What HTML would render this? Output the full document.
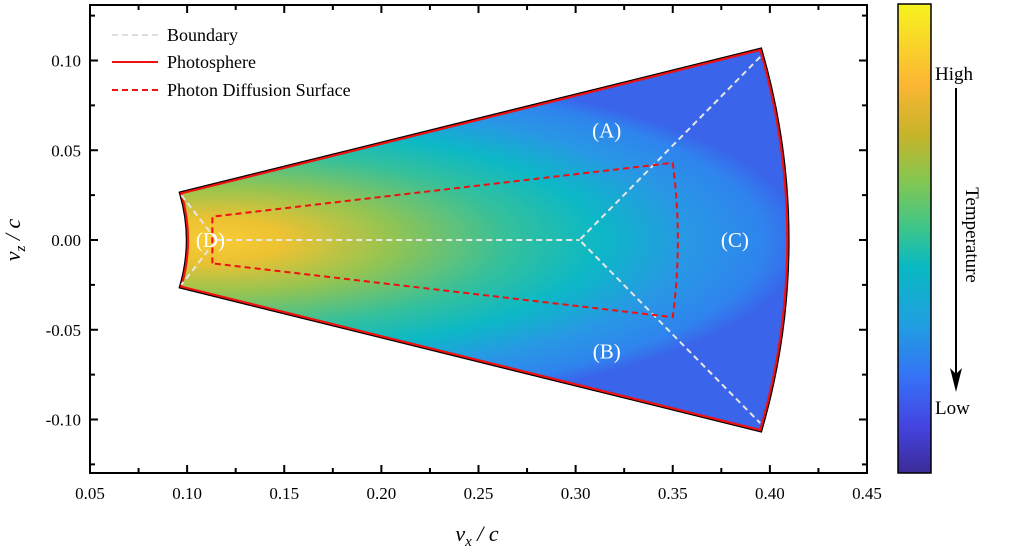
<!DOCTYPE html>
<html><head><meta charset="utf-8"><style>
body{margin:0;background:#fff;}
svg text{font-family:"Liberation Serif",serif;}
</style></head><body>
<svg id="chart" width="1020" height="549" xmlns="http://www.w3.org/2000/svg">
<defs>
<radialGradient id="heat" gradientUnits="userSpaceOnUse" cx="0" cy="0" r="1" gradientTransform="translate(215,240) scale(590,178)">
<stop offset="0" stop-color="#f8cc36"/><stop offset="0.12" stop-color="#ecc232"/><stop offset="0.3" stop-color="#94c452"/>
<stop offset="0.5" stop-color="#34c09c"/><stop offset="0.65" stop-color="#0cb8c6"/><stop offset="0.8" stop-color="#2898e4"/>
<stop offset="0.93" stop-color="#2f84ee"/><stop offset="1" stop-color="#3a64ea"/>
</radialGradient>
<linearGradient id="cbar" x1="0" y1="0" x2="0" y2="1">
<stop offset="0" stop-color="#f6f31e"/><stop offset="0.17" stop-color="#fcb634"/><stop offset="0.28" stop-color="#c6b42a"/>
<stop offset="0.38" stop-color="#82c752"/><stop offset="0.48" stop-color="#3cc58c"/><stop offset="0.56" stop-color="#08b9c2"/>
<stop offset="0.68" stop-color="#20a0e0"/><stop offset="0.8" stop-color="#3670f6"/><stop offset="0.9" stop-color="#4444e0"/>
<stop offset="1" stop-color="#3c2c98"/>
</linearGradient>
</defs>
<g id="plot"></g>
</svg>
<script>
const xTicks=[0.05,0.10,0.15,0.20,0.25,0.30,0.35,0.40,0.45];
const yTicks=[0.10,0.05,0.00,-0.05,-0.10];
const halfAngle=[15];            // degrees of wedge half-opening
const radii=[0.1004,0.409];      // inner, outer photosphere radius
const diffusion=[[0.113,0.013],[0.35,0.043],[0.35,-0.043],[0.113,-0.013]];
const boundaryPts=[[0.115,0],[0.302,0],[0.395,0.102],[0.395,-0.102],[0.097,0.025],[0.097,-0.025]];
const regionLabels=["(A)","(B)","(C)","(D)"];
const regionPos=[[0.316,0.061],[0.316,-0.062],[0.382,0],[0.112,0]];

const NS="http://www.w3.org/2000/svg";
const X=v=>90+(v-0.05)*1942.5, Y=v=>240-v*1795;
const g=document.getElementById('plot');
function el(t,a,p){const e=document.createElementNS(NS,t);for(const k in a)e.setAttribute(k,a[k]);(p||g).appendChild(e);return e;}

// wedge
const a=halfAngle[0]*Math.PI/180, ri=radii[0], ro=radii[1];
const pi=(r,s)=>[X(r*Math.cos(a)),Y(s*r*Math.sin(a))];
const [ix1,iy1]=pi(ri,1),[ix2,iy2]=pi(ri,-1),[ox1,oy1]=pi(ro,1),[ox2,oy2]=pi(ro,-1);
const rxi=ri*1942.5, ryi=ri*1795, rxo=ro*1942.5, ryo=ro*1795;
const d=`M${ix1},${iy1} L${ox1},${oy1} A${rxo},${ryo} 0 0 1 ${ox2},${oy2} L${ix2},${iy2} A${rxi},${ryi} 0 0 0 ${ix1},${iy1} Z`;
let os=el('path',{d:d,fill:'none',stroke:'#000','stroke-width':4.5,'stroke-linejoin':'miter'});


let w=el('path',{d:d,fill:'url(#heat)'});


let ph=el('path',{d:d,fill:'none',stroke:'#f01010','stroke-width':2.2});



// boundary
const B=boundaryPts.map(p=>[X(p[0]),Y(p[1])]);
const bd=`M${B[0]} L${B[1]} M${B[2]} L${B[1]} L${B[3]} M${B[4]} L${B[0]} L${B[5]}`;
let bl=el('path',{d:bd,fill:'none',stroke:'#e6e6e6','stroke-width':2,'stroke-dasharray':'6,4'});



// diffusion surface
const D=diffusion.map(p=>[X(p[0]),Y(p[1])]);
const rd=Math.hypot(diffusion[1][0],diffusion[1][1]);
const dd=`M${D[3]} L${D[0]} L${D[1]} A${rd*1942.5},${rd*1795} 0 0 1 ${D[2]} L${D[3]}`;
let ds=el('path',{d:dd,fill:'none',stroke:'#f01010','stroke-width':2,'stroke-dasharray':'6,4'});



regionLabels.forEach((t,i)=>{const e=el('text',{x:X(regionPos[i][0]),y:Y(regionPos[i][1])+7,'text-anchor':'middle','font-size':21,fill:'#fff'});e.textContent=t;

});

// frame
let fr=el('rect',{x:90,y:5,width:777,height:468,fill:'none',stroke:'#000','stroke-width':2});


xTicks.forEach((v,i)=>{const x=X(v);
 el('line',{x1:x,x2:x,y1:473,y2:465,stroke:'#000','stroke-width':2});
 el('line',{x1:x,x2:x,y1:5,y2:13,stroke:'#000','stroke-width':2});
 if(i<xTicks.length-1){const m=X(v+0.025);el('line',{x1:m,x2:m,y1:473,y2:468,stroke:'#000','stroke-width':2});el('line',{x1:m,x2:m,y1:5,y2:10,stroke:'#000','stroke-width':2});}
 const t=el('text',{x:x,y:499,'text-anchor':'middle','font-size':17});t.textContent=v.toFixed(2);
 
 });
[0.125,0.075,0.025,-0.025,-0.075,-0.125].forEach(v=>{const y=Y(v);el('line',{x1:90,x2:95,y1:y,y2:y,stroke:'#000','stroke-width':2});el('line',{x1:867,x2:862,y1:y,y2:y,stroke:'#000','stroke-width':2});});
yTicks.forEach(v=>{const y=Y(v);
 el('line',{x1:90,x2:98,y1:y,y2:y,stroke:'#000','stroke-width':2});
 el('line',{x1:867,x2:859,y1:y,y2:y,stroke:'#000','stroke-width':2});
 const t=el('text',{x:81,y:y+6,'text-anchor':'end','font-size':17});t.textContent=v.toFixed(2);
 
 });

// axis titles
let xt=el('text',{x:477,y:541,'text-anchor':'middle','font-size':22,'font-style':'italic'});
xt.innerHTML='v<tspan font-size="15" dy="5">x</tspan><tspan dy="-5"> / c</tspan>';


let yt=el('text',{x:0,y:0,'text-anchor':'middle','font-size':22,'font-style':'italic',transform:'translate(20,240) rotate(-90)'});
yt.innerHTML='v<tspan font-size="15" dy="5">z</tspan><tspan dy="-5"> / c</tspan>';



// legend
const legNames=["Boundary","Photosphere","Photon Diffusion Surface"];
const legStyle=[['#dcdcdc','6,4'],['#f01010',''],['#f01010','6,4']];
legNames.forEach((n,i)=>{const y=[35,62,90][i];
 const l=el('line',{x1:112,x2:158,y1:y,y2:y,stroke:legStyle[i][0],'stroke-width':2,'stroke-dasharray':legStyle[i][1]});
 
 
 const t=el('text',{x:167,y:y+6,'font-size':18});t.textContent=n;
 
 });

// colorbar
let cb=el('rect',{x:898,y:4,width:33,height:469,fill:'url(#cbar)',stroke:'#000','stroke-width':1.5});


let hi=el('text',{x:935,y:80,'font-size':19});hi.textContent='High';


let lo=el('text',{x:935,y:414,'font-size':19});lo.textContent='Low';


el('line',{x1:956,x2:956,y1:88,y2:380,stroke:'#000','stroke-width':2});
el('path',{d:'M950,368 L956,392 L962,368 L956,374 Z',fill:'#000'});
let tp=el('text',{x:0,y:0,'text-anchor':'middle','font-size':19,transform:'translate(966,235) rotate(90)'});tp.textContent='Temperature';


</script>
</body></html>
